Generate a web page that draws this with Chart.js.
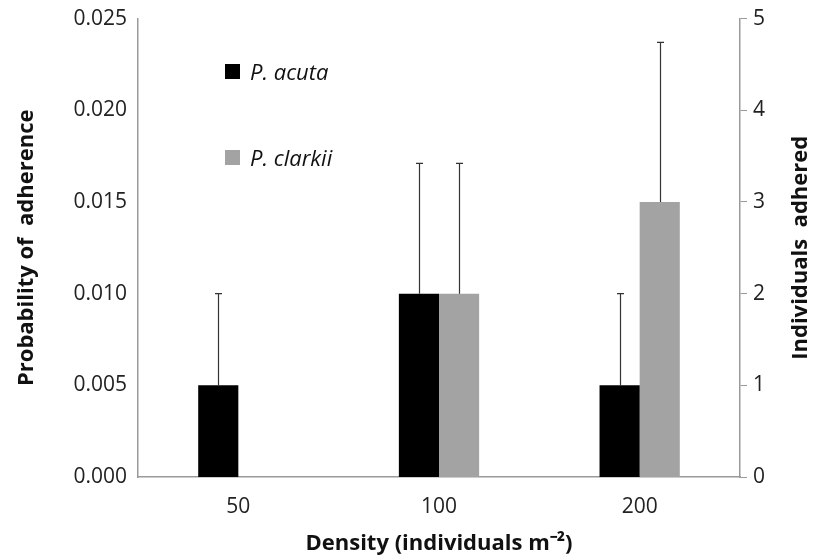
<!DOCTYPE html>
<html>
<head>
<meta charset="utf-8">
<script src="https://cdn.jsdelivr.net/npm/chart.js@4.4.1/dist/chart.umd.min.js"></script>
<style>
  body { margin: 0; background: #fff; }
  .wrap { position: relative; width: 813px; height: 557px; }
  .legend-item { position: absolute; left: 225px; font-family: 'Open Sans', sans-serif; font-style: italic; font-size: 22px; color: #111; display: flex; align-items: center; }
  .legend-item span.box { display: inline-block; width: 15px; height: 15px; margin-right: 10px; }
</style>
</head>
<body>
<div class="wrap">
  <canvas id="chart" width="813" height="557"></canvas>
  <div class="legend-item" style="top:56px"><span class="box" style="background:#000"></span>P. acuta</div>
  <div class="legend-item" style="top:142px"><span class="box" style="background:#a3a3a3"></span>P. clarkii</div>
</div>
<script>
const densities = ['50', '100', '200'];
const acuta = [0.005, 0.010, 0.005];
const clarkii = [0, 0.010, 0.015];
const acutaErr = [0.005, 0.0071, 0.005];
const clarkiiErr = [null, 0.0071, 0.0087];
const rightTicks = [0, 1, 2, 3, 4, 5];
const rightTitle = 'Individuals  adhered';

const axisColor = '#9a9a9a';
const font = { family: "'Open Sans', sans-serif", size: 21 };
const titleFont = { family: "'Open Sans', sans-serif", size: 22, weight: 'bold' };

// draws upper error bars with caps
const errorBars = {
  id: 'errorBars',
  afterDatasetsDraw(chart) {
    const ctx = chart.ctx;
    const y = chart.scales.y;
    const errs = [acutaErr, clarkiiErr];
    ctx.save();
    ctx.strokeStyle = '#333';
    ctx.lineWidth = 1.2;
    chart.data.datasets.forEach((ds, i) => {
      const meta = chart.getDatasetMeta(i);
      meta.data.forEach((bar, j) => {
        const e = errs[i][j];
        if (e === null || e === undefined) return;
        const top = y.getPixelForValue(ds.data[j] + e);
        const x = Math.round(bar.x) + 0.5;
        ctx.beginPath();
        ctx.moveTo(x, bar.y);
        ctx.lineTo(x, top);
        ctx.moveTo(x - 3.5, top);
        ctx.lineTo(x + 3.5, top);
        ctx.stroke();
      });
    });
    ctx.restore();
  }
};

// right axis title reads bottom to top, like the left one
const rightAxisTitle = {
  id: 'rightAxisTitle',
  afterDraw(chart) {
    const ctx = chart.ctx;
    const area = chart.chartArea;
    ctx.save();
    ctx.translate(801, (area.top + area.bottom) / 2);
    ctx.rotate(-Math.PI / 2);
    ctx.font = 'bold 22px "Open Sans", sans-serif';
    ctx.fillStyle = '#111';
    ctx.textAlign = 'center';
    ctx.textBaseline = 'middle';
    ctx.fillText(rightTitle, 0, 0);
    ctx.restore();
  }
};

new Chart(document.getElementById('chart'), {
  type: 'bar',
  data: {
    labels: densities,
    datasets: [
      { label: 'P. acuta', data: acuta, backgroundColor: '#000' },
      { label: 'P. clarkii', data: clarkii, backgroundColor: '#a3a3a3' }
    ]
  },
  options: {
    responsive: false,
    animation: false,
    layout: { padding: { top: 13, left: 10, right: 0, bottom: 0 } },
    datasets: { bar: { categoryPercentage: 0.4, barPercentage: 1 } },
    plugins: { legend: { display: false }, tooltip: { enabled: false } },
    scales: {
      x: {
        grid: { display: false, drawTicks: false },
        border: { color: axisColor, width: 1.5 },
        ticks: { color: '#222', font: font, padding: 17 },
        title: { display: true, text: 'Density (individuals m\u207B\u00B2)', color: '#111', font: titleFont, padding: { top: 2, bottom: 0 } },
        afterFit: (s) => { s.height = 80; }
      },
      y: {
        position: 'left',
        min: 0, max: 0.025,
        grid: { display: false, drawOnChartArea: false, drawTicks: true, tickLength: 7, color: axisColor },
        border: { color: axisColor, width: 1.5 },
        ticks: { stepSize: 0.005, color: '#222', font: font, padding: 4, callback: (v) => v.toFixed(3) },
        title: { display: true, text: 'Probability of  adherence', color: '#111', font: titleFont, padding: { bottom: 8 } },
        afterFit: (s) => { s.width = 128; }
      },
      y2: {
        position: 'right',
        min: 0, max: 5,
        grid: { drawOnChartArea: false, drawTicks: true, tickLength: 7, color: axisColor },
        border: { color: axisColor, width: 1.5 },
        ticks: { stepSize: 1, color: '#222', font: font, padding: 6, callback: (v) => rightTicks.includes(v) ? v : '' },
        title: { display: false },
        afterFit: (s) => { s.width = 73; }
      }
    }
  },
  plugins: [errorBars, rightAxisTitle]
});
</script>
</body>
</html>
